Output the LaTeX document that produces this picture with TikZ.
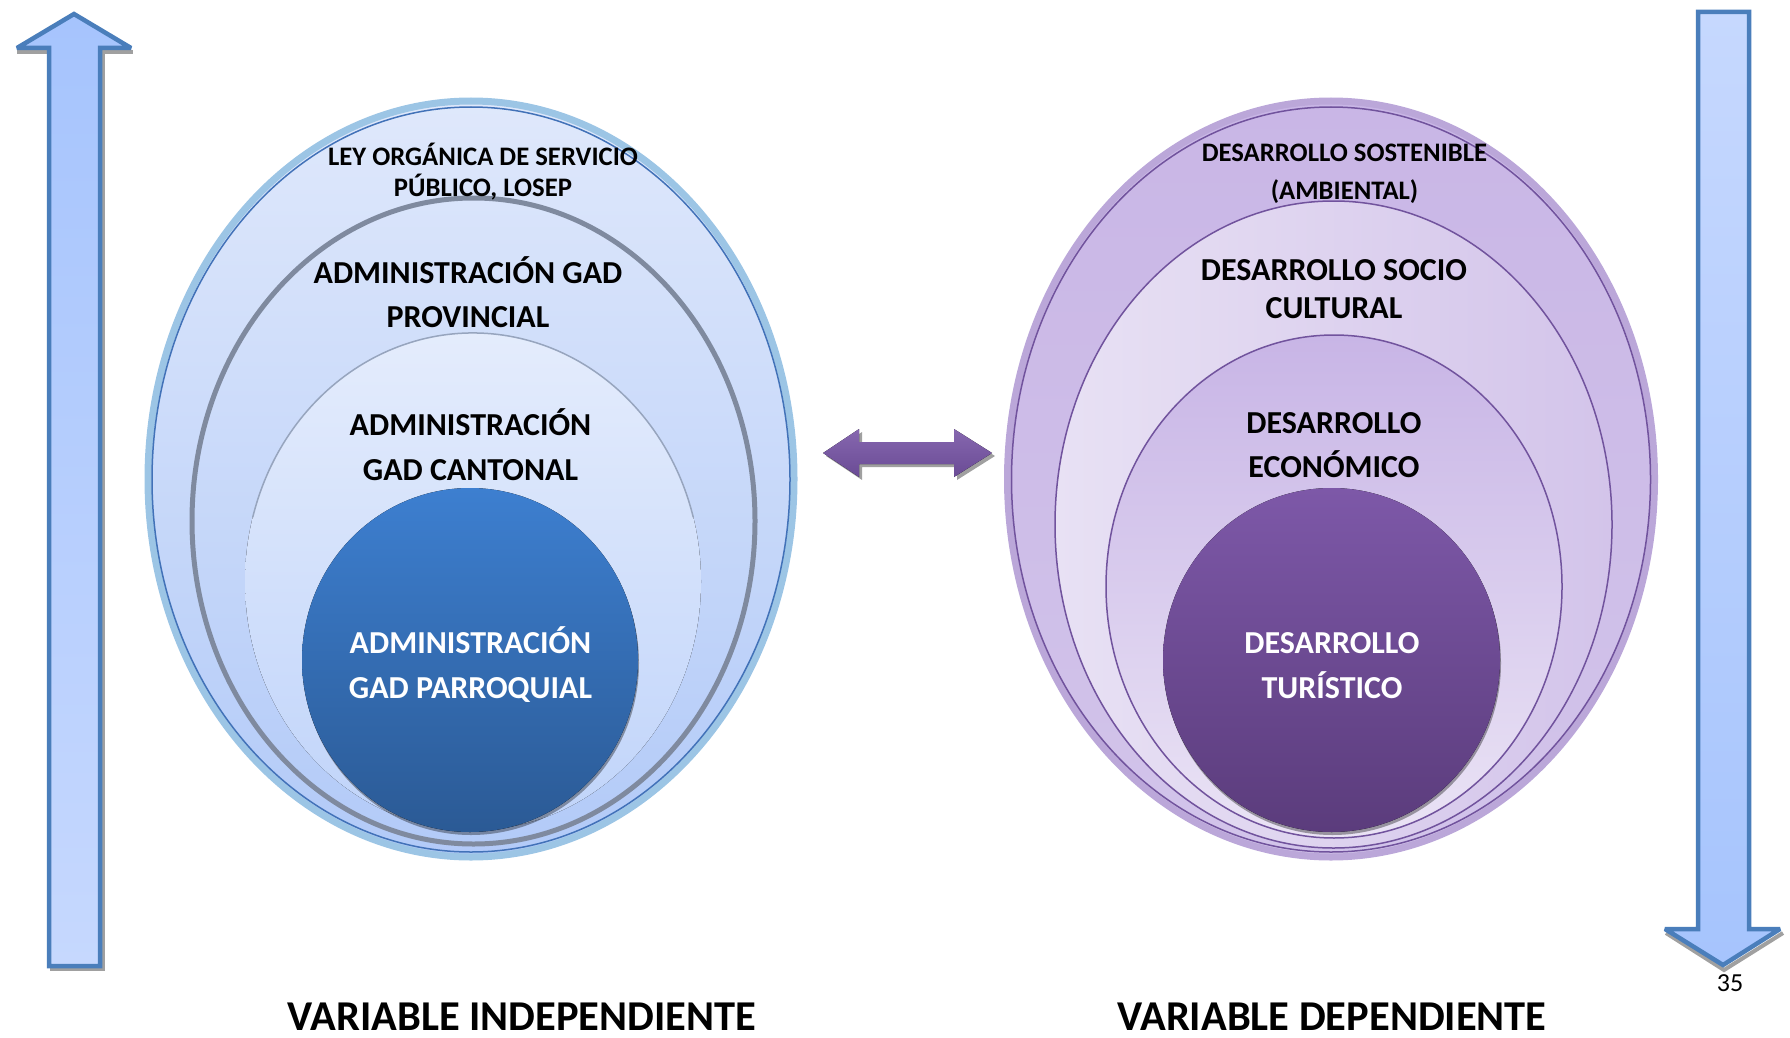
\documentclass[tikz,border=0pt]{standalone}
\usepackage{fontspec}
\setmainfont{Carlito}
\usetikzlibrary{shadings}
\definecolor{arrowedge}{HTML}{4A7EBB}
\definecolor{arrowlight}{HTML}{C6D8FE}
\definecolor{arrowdark}{HTML}{A6C4FD}
\definecolor{shadowgray}{HTML}{A0A0A0}
\definecolor{purpA}{HTML}{8667AF}
\definecolor{purpB}{HTML}{6A4B95}
\definecolor{lbTop}{HTML}{DFE8FB}
\definecolor{lbBot}{HTML}{B2CAF8}
\definecolor{lbEdge}{HTML}{9CC5E5}
\definecolor{lbLine}{HTML}{4272B8}
\definecolor{grayRing}{HTML}{7F8A9F}
\definecolor{canTop}{HTML}{E4ECFC}
\definecolor{canBot}{HTML}{C0D4FA}
\definecolor{canEdge}{HTML}{97A5BE}
\definecolor{parTop}{HTML}{3D7FD0}
\definecolor{parBot}{HTML}{2B5A95}
\definecolor{vOutTop}{HTML}{C9B6E6}
\definecolor{vOutBot}{HTML}{D2C4EA}
\definecolor{vEdge}{HTML}{BBA7D9}
\definecolor{vLine}{HTML}{71539D}
\definecolor{vSecL}{HTML}{E8E1F4}
\definecolor{vSecR}{HTML}{D3C4EA}
\definecolor{vThrTop}{HTML}{C8B5E6}
\definecolor{vThrBot}{HTML}{EAE3F5}
\definecolor{turTop}{HTML}{7D58A8}
\definecolor{turBot}{HTML}{5B3C7C}
\tikzset{
  blockarrow/.style={draw=arrowedge, line width=4.5pt, line join=miter, miter limit=3},
  lbl/.style={anchor=base, inner sep=0pt, font=\fontsize{32}{38}\selectfont\bfseries},
  lblsmall/.style={anchor=base, inner sep=0pt, font=\fontsize{26.7}{31}\selectfont\bfseries},
  lblbig/.style={anchor=base, inner sep=0pt, font=\fontsize{42.5}{48}\selectfont\bfseries},
  lblwhite/.style={lbl, text=white},
}
\begin{document}
\begin{tikzpicture}[x=1pt,y=-1pt]
\useasboundingbox (0,0) rectangle (1790,1038);

% ---------- left up arrow ----------
\fill[shadowgray] (50,50) -- (50,971) -- (105,971) -- (105,50) -- cycle;
\draw[shadowgray, line width=4pt] (17,52) -- (133,52);
\draw[blockarrow, bottom color=arrowlight, top color=arrowdark]
  (74,14) -- (131,48) -- (100,48) -- (100,966) -- (49,966) -- (49,48) -- (17,48) -- cycle;

% ---------- right down arrow ----------
\draw[shadowgray, line width=4pt] (1666,933) -- (1724,970) -- (1783,933);
\draw[blockarrow, top color=arrowlight, bottom color=arrowdark]
  (1698,12) -- (1749,12) -- (1749,929) -- (1780,929) -- (1723,965) -- (1665,929) -- (1698,929) -- cycle;

% ---------- double arrow ----------
\fill[shadowgray] (826,456) -- (862,432) -- (862,445) -- (957,445) -- (957,432) -- (995,456)
  -- (957,480) -- (957,467) -- (862,467) -- (862,480) -- cycle;
\fill[top color=purpA, bottom color=purpB]
  (823,453) -- (859,429) -- (859,442) -- (954,442) -- (954,429) -- (992,453)
  -- (954,477) -- (954,464) -- (859,464) -- (859,477) -- cycle;

% ---------- left nested ellipses ----------
\draw[lbEdge, line width=7pt, top color=lbTop, bottom color=lbBot]
  (471,479) ellipse [x radius=323, y radius=378];
\draw[lbLine, line width=1.5pt] (471,479.5) ellipse [x radius=319, y radius=372.5];
\draw[grayRing, line width=5pt] (473.5,521) ellipse [x radius=281.5, y radius=323];
\fill[top color=canTop, bottom color=canBot] (473,581.5) ellipse [x radius=228, y radius=248.5];
\draw[canEdge, line width=1.5pt] (473,581.5) ++(195:228 and 248.5) arc [start angle=195, end angle=345, x radius=228, y radius=248.5];
\fill[black, opacity=0.35] (471,663) ellipse [x radius=168, y radius=172];
\fill[top color=parTop, bottom color=parBot] (470,660) ellipse [x radius=168, y radius=172];

% ---------- right nested ellipses ----------
\draw[vEdge, line width=7pt, top color=vOutTop, bottom color=vOutBot]
  (1331,479) ellipse [x radius=323.5, y radius=378];
\draw[vLine, line width=1.5pt] (1331,479.5) ellipse [x radius=319.5, y radius=372.5];
\draw[vLine, line width=1.5pt, left color=vSecL, right color=vSecR]
  (1333.5,524.5) ellipse [x radius=278.5, y radius=323.5];
\draw[vLine, line width=1.5pt, top color=vThrTop, bottom color=vThrBot]
  (1334,586.5) ellipse [x radius=228, y radius=251.5];
\fill[black, opacity=0.35] (1332.5,663) ellipse [x radius=168.5, y radius=172];
\fill[top color=turTop, bottom color=turBot] (1331.5,660) ellipse [x radius=168.5, y radius=172];

% ---------- left texts ----------
\node[lblsmall] (ley1) at (483,165.5) {LEY ORGÁNICA DE SERVICIO};
\node[lblsmall] (ley2) at (483,196.5) {PÚBLICO, LOSEP};
\node[lbl] (prov1) at (468,283) {ADMINISTRACIÓN GAD};
\node[lbl] (prov2) at (468,327) {PROVINCIAL};
\node[lbl] (can1) at (470.5,435) {ADMINISTRACIÓN};
\node[lbl] (can2) at (470.5,480) {GAD CANTONAL};
\node[lblwhite] (par1) at (470.5,653) {ADMINISTRACIÓN};
\node[lblwhite] (par2) at (470.5,698) {GAD PARROQUIAL};

% ---------- right texts ----------
\node[lblsmall] (sos1) at (1344.5,161.5) {DESARROLLO SOSTENIBLE};
\node[lblsmall] (sos2) at (1344.5,199.5) {(AMBIENTAL)};
\node[lbl] (soc1) at (1334,280) {DESARROLLO SOCIO};
\node[lbl] (soc2) at (1334,318) {CULTURAL};
\node[lbl] (eco1) at (1334,433) {DESARROLLO};
\node[lbl] (eco2) at (1334,477) {ECONÓMICO};
\node[lblwhite] (tur1) at (1332,653) {DESARROLLO};
\node[lblwhite] (tur2) at (1332,698) {TURÍSTICO};

% ---------- bottom labels ----------
\node[lblbig] (vind) at (522,1030) {VARIABLE INDEPENDIENTE};
\node[lblbig] (vdep) at (1332,1030) {VARIABLE DEPENDIENTE};
\node[anchor=base, inner sep=0pt, font=\fontsize{26}{30}\selectfont] (pg) at (1730,991) {35};
\end{tikzpicture}
\end{document}
